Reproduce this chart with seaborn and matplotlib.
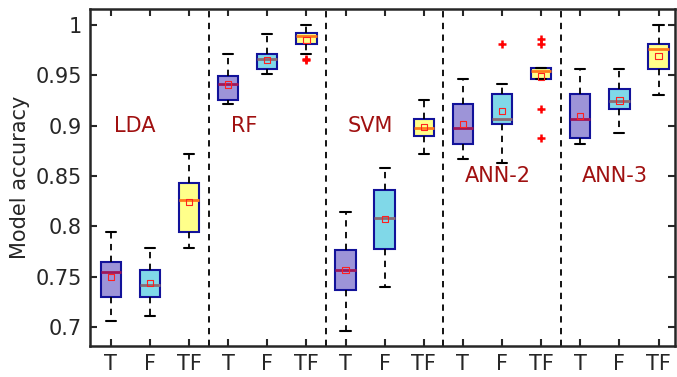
import numpy as np
import pandas as pd
import matplotlib
matplotlib.use('Agg')
import matplotlib.pyplot as plt
from matplotlib.ticker import FuncFormatter
import seaborn as sns

models = ['LDA', 'RF', 'SVM', 'ANN-2', 'ANN-3']
kinds = ['T', 'F', 'TF']

# five-number summaries: low whisker, q1, median, q3, high whisker
whis_lo = [0.706, 0.711, 0.779, 0.922, 0.951, 0.971, 0.696, 0.740, 0.872,
           0.867, 0.863, 0.946, 0.882, 0.893, 0.931]
q1 = [0.730, 0.730, 0.794, 0.926, 0.956, 0.981, 0.737, 0.778, 0.890,
      0.882, 0.902, 0.946, 0.888, 0.917, 0.956]
median = [0.755, 0.742, 0.826, 0.941, 0.966, 0.989, 0.757, 0.808, 0.898,
          0.898, 0.907, 0.954, 0.907, 0.925, 0.976]
q3 = [0.765, 0.757, 0.843, 0.949, 0.971, 0.992, 0.777, 0.836, 0.907,
      0.922, 0.932, 0.957, 0.932, 0.936, 0.981]
whis_hi = [0.794, 0.779, 0.872, 0.971, 0.991, 1.000, 0.814, 0.858, 0.926,
           0.946, 0.941, 0.957, 0.956, 0.956, 1.000]
mean = [0.750, 0.744, 0.824, 0.941, 0.965, 0.985, 0.757, 0.807, 0.899,
        0.902, 0.915, 0.949, 0.910, 0.925, 0.969]

# outliers: (box index, value)
outlier_box = [5, 5, 10, 11, 11, 11, 11]
outlier_val = [0.966, 0.965, 0.981, 0.986, 0.981, 0.917, 0.888]

labels = [f'{m}-{k}' for m in models for k in kinds]
kind_of = [k for m in models for k in kinds]

rows = []
for i, lab in enumerate(labels):
    for v in (whis_lo[i], q1[i], median[i], q3[i], whis_hi[i]):
        rows.append({'label': lab, 'kind': kind_of[i], 'value': v})
df = pd.DataFrame(rows)

fills = {'T': '#9d94d8', 'F': '#80d8e8', 'TF': '#ffff8a'}
med_colors = {'T': '#a0185a', 'F': '#8a6c74', 'TF': '#ff7a1a'}
edge = '#12129a'
dark = '#262626'
txt_red = '#a01010'

sns.set_style('ticks')
plt.rcParams['font.family'] = ['DejaVu Sans']
plt.rcParams['font.size'] = 15

fig = plt.figure(figsize=(6.77, 3.77), dpi=100)
ax = fig.add_axes([0.133, 0.082, 0.864, 0.894])

for k in kinds:
    sns.boxplot(data=df[df['kind'] == k], x='label', y='value', order=labels,
                color=fills[k], saturation=1, width=0.52, whis=(0, 100),
                showfliers=False, linecolor=edge, linewidth=1.5,
                medianprops=dict(color=med_colors[k], linewidth=2),
                whiskerprops=dict(color='black', linewidth=1.3, linestyle=(0, (3.5, 3))),
                capprops=dict(color='black', linewidth=1.5),
                ax=ax)

pos = np.arange(len(labels))
ax.scatter(pos, mean, marker='s', s=20, facecolors='none', edgecolors='#ff2020',
           linewidths=0.8, zorder=6)
ax.scatter(np.array(outlier_box), outlier_val, marker='+', s=30, color='red',
           linewidths=1.8, zorder=6)

for x in [2.5, 5.5, 8.5, 11.5]:
    ax.axvline(x, color='black', linewidth=1.3, linestyle=(0, (3.5, 3)), zorder=1)

name_x = [0.60, 3.41, 6.64, 9.89, 12.88]
name_y = [0.8996, 0.8996, 0.8996, 0.850, 0.850]
for m, x, y in zip(models, name_x, name_y):
    ax.text(x, y, m, color=txt_red, fontsize=15, ha='center', va='center')

ax.set_xlim(-0.53, 14.42)
ax.set_ylim(0.6811, 1.0159)
ax.set_xticks(pos)
ax.set_xticklabels(kind_of)
ax.set_yticks([0.7, 0.75, 0.8, 0.85, 0.9, 0.95, 1.0])
ax.yaxis.set_major_formatter(FuncFormatter(lambda v, p: f'{v:g}'))
ax.set_xlabel('')
ax.set_ylabel('Model accuracy', fontsize=15, color=dark)
ax.tick_params(direction='in', length=5, width=1.5, top=True, right=True,
               labelsize=15, colors=dark, pad=6)
for s in ax.spines.values():
    s.set_visible(True)
    s.set_linewidth(1.8)
    s.set_color(dark)

fig.savefig('out.png', dpi=100)
